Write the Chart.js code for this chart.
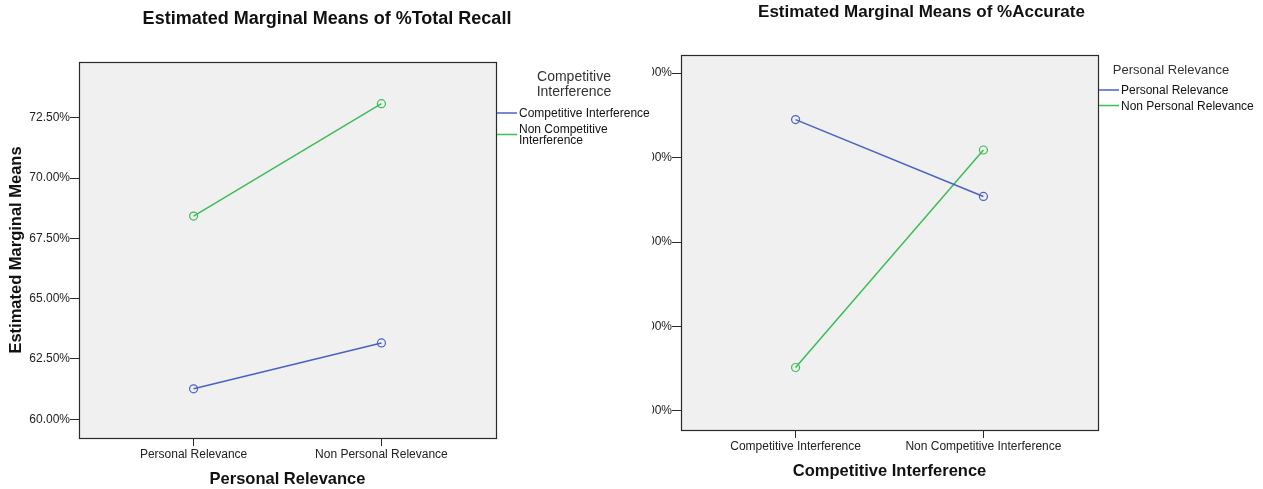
<!DOCTYPE html>
<html>
<head>
<meta charset="utf-8">
<script src="https://cdn.jsdelivr.net/npm/chart.js@4/dist/chart.umd.min.js"></script>
<style>
  body { margin: 0; background: #fff; }
  #wrap { position: relative; width: 1263px; height: 489px; overflow: hidden; }
  canvas { position: absolute; top: 0; }
  #recall { left: 0; }
  #accurate { left: 652px; }
</style>
</head>
<body>
<div id="wrap">
  <canvas id="recall" width="650" height="489"></canvas>
  <canvas id="accurate" width="611" height="489"></canvas>
</div>
<script>
// chart 1: %Total Recall, x = Personal Relevance, lines = Competitive Interference
const relevance = ["Personal Relevance", "Non Personal Relevance"];
const recallCompetitive = [61.26, 63.16];
const recallNonCompetitive = [68.42, 73.08];
const recallTicks = [60, 62.5, 65, 67.5, 70, 72.5];

// chart 2: %Accurate, x = Competitive Interference, lines = Personal Relevance
// (the tick labels are cut off in the picture, values are a guess)
const interference = ["Competitive Interference", "Non Competitive Interference"];
const accuratePersonal = [82.90, 81.08];
const accurateNonPersonal = [77.03, 82.18];
const accurateTicks = [76, 78, 80, 82, 84];

const BLUE = "#4c60c2";
const GREEN = "#3dbd57";
const FONT = "'Liberation Sans', Arial, sans-serif";

function points(vals) {
    return vals.map((v, i) => ({ x: i, y: v }));
}

function series(label, vals, color) {
    return {
        label: label,
        data: points(vals),
        borderColor: color,
        borderWidth: 1.5,
        pointRadius: 4,
        pointHoverRadius: 4,
        pointBorderWidth: 1.2,
        pointBorderColor: color,
        pointBackgroundColor: "rgba(0,0,0,0)",
        tension: 0
    };
}

// spss look: grey plot box, title and legend at fixed spots
const spssPlugin = {
    id: "spss",
    beforeDraw(chart) {
        const a = chart.chartArea, ctx = chart.ctx;
        ctx.save();
        ctx.fillStyle = "#f0f0f0";
        ctx.fillRect(a.left, a.top, a.right - a.left, a.bottom - a.top);
        ctx.restore();
    },
    afterDraw(chart, args, opts) {
        const a = chart.chartArea, ctx = chart.ctx;
        ctx.save();
        ctx.strokeStyle = "#2a2a2a";
        ctx.lineWidth = 1.2;
        ctx.strokeRect(a.left + 0.5, a.top + 0.5, a.right - a.left, a.bottom - a.top);

        // title
        ctx.fillStyle = "#111";
        ctx.font = "bold " + opts.titleSize + "px " + FONT;
        ctx.textAlign = "center";
        ctx.textBaseline = "middle";
        ctx.fillText(opts.title, opts.titleX, opts.titleY);

        // legend title
        ctx.fillStyle = "#333";
        ctx.font = opts.legendTitleSize + "px " + FONT;
        opts.legendTitle.forEach((t, i) => ctx.fillText(t, opts.legendTitleX, opts.legendTitleY + i * 15));

        // legend items
        ctx.font = "12px " + FONT;
        ctx.textAlign = "left";
        ctx.fillStyle = "#111";
        let y = opts.itemTop;
        chart.data.datasets.forEach(ds => {
            const lines = wrap(ctx, ds.label, opts.maxWidth);
            const h = lines.length * 11;
            const my = y + h / 2 - 1;
            ctx.strokeStyle = ds.borderColor;
            ctx.lineWidth = 1.5;
            ctx.beginPath();
            ctx.moveTo(a.right + 1, my);
            ctx.lineTo(a.right + 21, my);
            ctx.stroke();
            lines.forEach((l, i) => ctx.fillText(l, a.right + 23, y + 5.5 + i * 11));
            y += h + opts.itemGap;
        });
        ctx.restore();
    }
};

function wrap(ctx, text, maxW) {
    const words = text.split(" ");
    const out = [];
    let cur = "";
    words.forEach(w => {
        const t = cur ? cur + " " + w : w;
        if (ctx.measureText(t).width > maxW && cur) {
            out.push(cur);
            cur = w;
        } else {
            cur = t;
        }
    });
    out.push(cur);
    return out;
}

function makeChart(el, cfg) {
    return new Chart(el, {
        type: "line",
        data: { datasets: cfg.datasets },
        plugins: [spssPlugin],
        options: {
            responsive: false,
            animation: false,
            layout: { padding: cfg.padding },
            plugins: {
                legend: { display: false },
                title: { display: false },
                tooltip: { enabled: false },
                spss: cfg.spss
            },
            scales: {
                x: {
                    type: "linear",
                    min: -0.61,
                    max: 1.61,
                    afterBuildTicks: s => { s.ticks = [{ value: 0 }, { value: 1 }]; },
                    afterFit: s => { s.height = cfg.xHeight; },
                    border: { display: false },
                    grid: { drawOnChartArea: false, color: "#2a2a2a", tickLength: 8 },
                    ticks: {
                        callback: v => cfg.categories[v],
                        color: "#222",
                        font: { family: FONT, size: 12 },
                        padding: 1,
                        maxRotation: 0
                    },
                    title: {
                        display: true,
                        text: cfg.xTitle,
                        color: "#111",
                        font: { family: FONT, size: 16.5, weight: "bold" },
                        padding: { top: 0, bottom: cfg.xTitlePad }
                    }
                },
                y: {
                    min: cfg.yMin,
                    max: cfg.yMax,
                    afterBuildTicks: s => { s.ticks = cfg.yTicks.map(v => ({ value: v })); },
                    afterFit: s => { s.width = cfg.yWidth; },
                    border: { display: false },
                    grid: { drawOnChartArea: false, color: "#2a2a2a", tickLength: 9 },
                    ticks: {
                        callback: v => v.toFixed(2) + "%",
                        color: "#222",
                        font: { family: FONT, size: 12 },
                        padding: 0
                    },
                    title: {
                        display: cfg.yTitle !== "",
                        text: cfg.yTitle,
                        color: "#111",
                        font: { family: FONT, size: 16.5, weight: "bold" },
                        padding: { top: 7, bottom: 0 }
                    }
                }
            }
        }
    });
}

makeChart(document.getElementById("recall"), {
    categories: relevance,
    datasets: [
        series("Competitive Interference", recallCompetitive, BLUE),
        series("Non Competitive Interference", recallNonCompetitive, GREEN)
    ],
    padding: { top: 62, right: 154, bottom: 0, left: 0 },
    xHeight: 51,
    xTitle: "Personal Relevance",
    xTitlePad: 0,
    yMin: 59.22,
    yMax: 74.81,
    yTicks: recallTicks,
    yWidth: 79,
    yTitle: "Estimated Marginal Means",
    spss: {
        title: "Estimated Marginal Means of %Total Recall",
        titleSize: 18, titleX: 327, titleY: 19,
        legendTitle: ["Competitive", "Interference"],
        legendTitleSize: 14, legendTitleX: 574, legendTitleY: 77.5,
        itemTop: 108.5, itemGap: 5, maxWidth: 132
    }
});

makeChart(document.getElementById("accurate"), {
    categories: interference,
    datasets: [
        series("Personal Relevance", accuratePersonal, BLUE),
        series("Non Personal Relevance", accurateNonPersonal, GREEN)
    ],
    padding: { top: 55, right: 165, bottom: 0, left: 0 },
    xHeight: 59,
    xTitle: "Competitive Interference",
    xTitlePad: 7.4,
    yMin: 75.55,
    yMax: 84.43,
    yTicks: accurateTicks,
    yWidth: 29,
    yTitle: "",
    spss: {
        title: "Estimated Marginal Means of %Accurate",
        titleSize: 17, titleX: 269.5, titleY: 12,
        legendTitle: ["Personal Relevance"],
        legendTitleSize: 13, legendTitleX: 519, legendTitleY: 70,
        itemTop: 85.5, itemGap: 4.5, maxWidth: 200
    }
});
</script>
</body>
</html>
